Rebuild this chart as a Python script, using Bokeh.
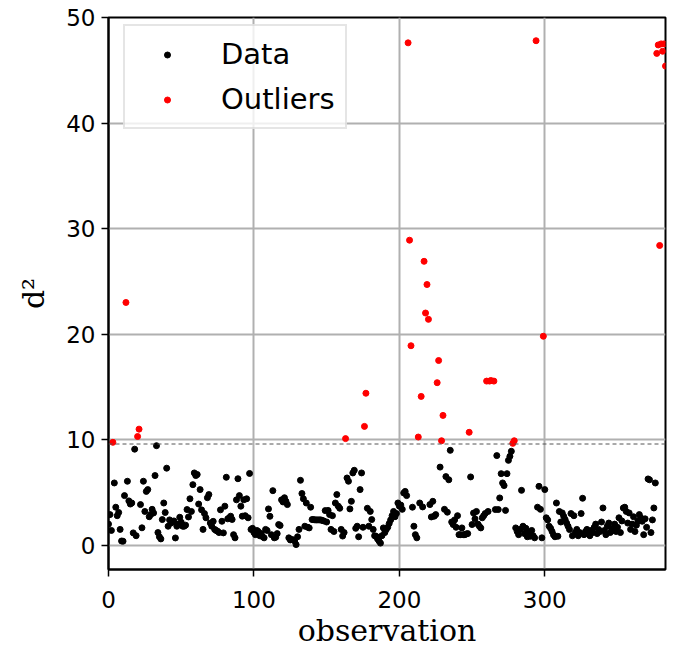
from bokeh.plotting import figure
from bokeh.models import Range1d, Span, FixedTicker
from bokeh.embed import file_html
from bokeh.resources import INLINE

# ---- data ----
data_obs = [0, 1, 2, 4, 5, 6, 7, 8, 9, 10, 11, 13, 14, 15, 16, 17, 18, 19, 22, 23, 24, 25, 26, 27, 28, 29,
            30, 31, 32, 33, 34, 35, 36, 37, 38, 39, 40, 41, 42, 43, 44, 45, 46, 47, 48, 49, 50, 51, 52, 53,
            54, 55, 56, 57, 58, 59, 60, 61, 62, 63, 64, 65, 66, 67, 68, 69, 70, 71, 72, 73, 74, 75, 76, 77,
            78, 79, 80, 81, 82, 83, 84, 85, 86, 87, 88, 89, 90, 91, 92, 93, 94, 95, 96, 97, 98, 99, 100, 101,
            102, 103, 104, 105, 106, 107, 108, 109, 110, 111, 112, 113, 114, 115, 116, 117, 118, 119, 120,
            121, 122, 123, 124, 125, 126, 127, 128, 129, 130, 131, 132, 133, 134, 135, 136, 137, 138, 139,
            140, 141, 142, 143, 144, 145, 146, 147, 148, 149, 150, 151, 152, 153, 154, 155, 156, 157, 158,
            159, 160, 161, 162, 164, 165, 166, 167, 168, 169, 170, 171, 172, 173, 174, 175, 178, 179, 180,
            181, 182, 183, 184, 185, 186, 187, 188, 189, 190, 191, 192, 193, 194, 195, 196, 197, 198, 199,
            200, 201, 202, 203, 204, 205, 209, 210, 211, 212, 214, 216, 221, 222, 223, 224, 225, 228, 231,
            232, 233, 234, 235, 236, 237, 238, 239, 240, 241, 242, 243, 244, 245, 246, 247, 249, 250, 251,
            252, 253, 254, 255, 256, 257, 258, 259, 261, 266, 267, 268, 269, 270, 271, 272, 273, 274, 275,
            276, 277, 280, 281, 282, 283, 284, 285, 286, 287, 288, 289, 290, 291, 292, 293, 295, 296, 297,
            298, 300, 301, 302, 303, 304, 305, 306, 307, 308, 309, 310, 311, 312, 313, 314, 315, 316, 317,
            318, 319, 320, 321, 322, 323, 324, 325, 326, 327, 328, 329, 330, 331, 332, 333, 334, 335, 336,
            337, 338, 339, 340, 341, 342, 343, 344, 345, 346, 347, 348, 349, 350, 351, 352, 353, 354, 355,
            356, 357, 358, 359, 360, 361, 362, 363, 364, 365, 366, 367, 368, 369, 370, 371, 372, 373, 374,
            375, 376]
data_d2 = [2.0, 2.9, 1.4, 5.9, 3.6, 2.8, 3.1, 1.5, 0.4, 0.38, 4.7, 6.06, 4.2, 3.9, 4.0, 1.17, 9.1, 0.9, 3.85,
           1.65, 6.06, 3.2, 5.1, 5.27, 2.7, 2.9, 3.4, 3.06, 6.6, 9.43, 1.2, 0.8, 0.6, 2.43, 4.0, 3.1, 7.3,
           1.8, 2.4, 2.1, 2.2, 2.3, 0.69, 1.8, 2.0, 2.65, 2.18, 1.8, 1.8, 1.9, 3.38, 2.68, 4.4, 3.2, 5.74,
           6.85, 6.6, 6.7, 3.9, 5.27, 3.35, 1.5, 3.0, 2.6, 4.5, 4.8, 2.1, 1.8, 2.26, 1.5, 1.4, 1.33, 1.2,
           3.35, 2.27, 1.17, 3.7, 6.44, 2.5, 2.6, 2.75, 2.44, 1.0, 0.7, 4.3, 6.3, 4.7, 3.7, 2.75, 4.3, 2.8,
           4.4, 2.6, 6.8, 1.5, 1.6, 1.2, 1.0, 1.4, 1.3, 0.9, 1.1, 0.8, 0.7, 1.5, 1.4, 3.44, 2.74, 1.0, 5.17,
           0.7, 0.76, 1.1, 1.96, 1.87, 4.3, 4.1, 4.5, 4.16, 3.85, 0.7, 0.5, 0.54, 0.5, 0.4, 0.06, 0.8, 1.5,
           6.15, 4.9, 4.4, 1.8, 4.0, 1.7, 1.64, 3.6, 2.43, 2.43, 2.4, 2.4, 2.4, 2.4, 2.4, 2.35, 2.3, 3.28,
           2.2, 3.3, 2.9, 1.5, 2.8, 1.3, 4.0, 4.8, 3.7, 3.5, 1.5, 0.87, 1.2, 6.37, 6.06, 3.44, 4.16, 6.85,
           7.1, 1.6, 1.8, 0.8, 5.27, 6.85, 1.7, 3.5, 1.8, 3.2, 2.43, 1.5, 0.9, 0.85, 0.6, 0.4, 0.2, 0.9,
           1.64, 1.2, 1.5, 1.7, 2.05, 2.4, 2.8, 3.2, 2.7, 3.0, 4.0, 3.7, 3.8, 3.4, 4.95, 5.1, 4.7, 3.6, 1.8,
           1.0, 0.7, 4.0, 3.63, 3.85, 2.68, 4.16, 2.75, 2.9, 7.4, 3.4, 6.5, 3.13, 6.2, 8.99, 2.2, 1.96, 2.4,
           1.7, 2.8, 1.0, 1.0, 1.64, 1.0, 1.0, 1.07, 1.1, 6.47, 1.96, 3.05, 2.5, 3.2, 2.0, 1.8, 1.64, 2.6,
           2.8, 3.0, 3.2, 3.38, 8.49, 3.38, 4.48, 6.78, 5.9, 5.65, 3.3, 6.78, 8.04, 8.42, 8.9, 1.64, 1.3,
           1.0, 1.5, 5.2, 1.8, 1.1, 1.6, 0.8, 1.2, 0.85, 1.4, 0.9, 0.7, 3.6, 5.58, 3.4, 0.7, 5.27, 2.6, 2.4,
           1.8, 1.6, 1.3, 0.98, 0.8, 4.0, 0.85, 3.2, 2.2, 3.06, 2.74, 2.43, 2.1, 1.8, 1.48, 3.0, 0.9, 2.8,
           1.2, 1.5, 0.9, 1.2, 3.0, 4.45, 1.0, 1.3, 1.5, 1.1, 0.9, 1.4, 1.2, 1.7, 2.0, 1.1, 1.5, 1.3, 2.2,
           3.53, 1.4, 1.0, 1.8, 2.1, 1.2, 1.6, 1.4, 2.0, 1.3, 1.7, 2.6, 1.2, 2.3, 3.53, 3.6, 3.2, 2.1, 3.06,
           1.5, 2.0, 2.7, 1.3, 1.9, 2.3, 2.9, 2.6, 2.27, 1.0, 2.5, 1.7, 6.28, 6.2, 1.2, 2.4, 3.53, 5.9]

out_obs = [3, 12, 20, 21, 163, 176, 177, 206, 207, 208, 213, 215, 217, 218, 219, 220, 226, 227, 229, 230,
           248, 260, 262, 263, 265, 278, 279, 294, 299, 377, 378, 379, 380, 381, 382, 383]
out_d2 = [9.75, 23.0, 10.3, 11.0, 10.1, 11.26, 14.4, 47.6, 28.9, 18.9, 10.25, 14.1, 26.9, 22.0, 24.7, 21.4,
          15.4, 17.5, 9.9, 12.3, 10.7, 15.55, 15.55, 15.6, 15.55, 9.65, 9.9, 47.8, 19.8, 46.6, 47.4, 28.4,
          47.5, 46.8, 47.5, 45.4]

threshold = 9.59
x_ticks = [0, 100, 200, 300]
y_ticks = [0, 10, 20, 30, 40, 50]

p = figure(width=674, height=650, output_backend="svg", toolbar_location=None,
           x_range=Range1d(0, 383), y_range=Range1d(-2.3, 50),
           min_border_left=108, min_border_right=9, min_border_top=17, min_border_bottom=80)

p.background_fill_color = "white"
p.border_fill_color = "white"
p.outline_line_color = "black"
p.outline_line_width = 2

for ax in (p.xaxis[0], p.yaxis[0]):
    ax.axis_line_color = "black"
    ax.axis_line_width = 2
    ax.major_tick_line_color = "black"
    ax.major_tick_line_width = 1.5
    ax.major_tick_out = 7
    ax.major_tick_in = 0
    ax.minor_tick_line_color = None
    ax.major_label_text_font = "DejaVu Sans"
    ax.major_label_text_font_size = "23px"
    ax.major_label_text_color = "black"
    ax.axis_label_text_font = "DejaVu Serif"
    ax.axis_label_text_font_size = "30px"
    ax.axis_label_text_font_style = "normal"
    ax.axis_label_text_color = "black"

p.xaxis.ticker = FixedTicker(ticks=x_ticks)
p.yaxis.ticker = FixedTicker(ticks=y_ticks)
p.xaxis.axis_label = "observation"
p.yaxis.axis_label = "d²"
p.xaxis.major_label_standoff = 14
p.yaxis.major_label_standoff = 6
p.xaxis.axis_label_standoff = 2
p.yaxis.axis_label_standoff = 12

p.grid.grid_line_color = "#b0b0b0"
p.grid.grid_line_width = 2

p.add_layout(Span(location=threshold, dimension="width", line_color="#555555",
                  line_width=1, line_dash="4 3"))

p.scatter(data_obs, data_d2, size=6, color="black", legend_label="Data")
p.scatter(out_obs, out_d2, size=6, color="red", legend_label="Outliers")

lg = p.legend[0]
lg.location = (15, 440)
lg.label_text_font = "DejaVu Sans"
lg.label_text_font_size = "29px"
lg.label_text_color = "black"
lg.glyph_width = 64
lg.glyph_height = 15
lg.label_height = 36
lg.label_standoff = 22
lg.spacing = 9
lg.padding = 10
lg.margin = 0
lg.border_line_color = "#cccccc"
lg.border_line_width = 2
lg.background_fill_alpha = 0.8

open("out.html", "w").write(file_html(p, INLINE))
